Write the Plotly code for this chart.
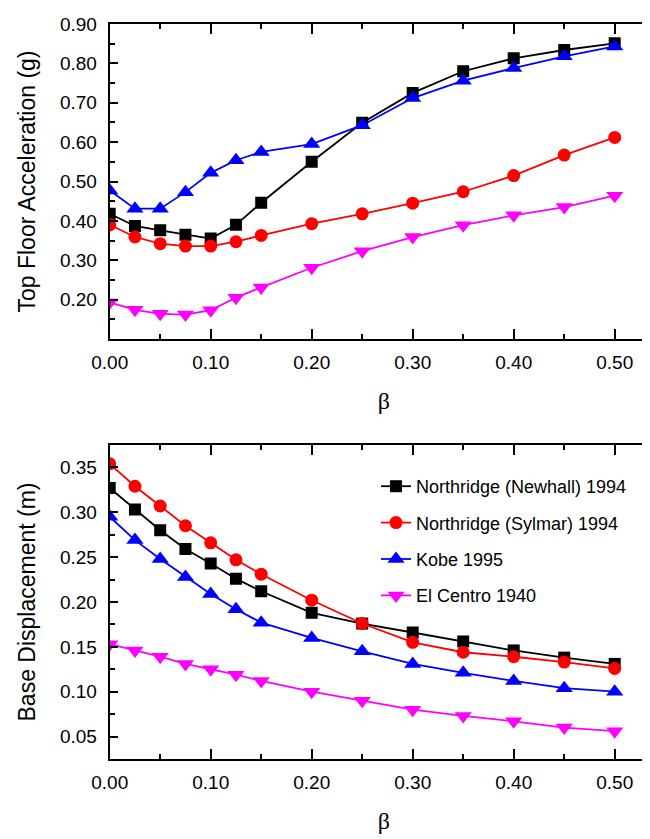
import plotly.graph_objects as go

# ---------------- data ----------------
beta = [0.0, 0.025, 0.05, 0.075, 0.1, 0.125, 0.15, 0.2, 0.25, 0.3, 0.35, 0.4, 0.45, 0.5]

series_names = ["Northridge (Newhall) 1994", "Northridge (Sylmar) 1994", "Kobe 1995", "El Centro 1940"]

acc_newhall = [0.418, 0.387, 0.376, 0.365, 0.355, 0.390, 0.446, 0.550, 0.649, 0.725, 0.780, 0.813, 0.834, 0.851]
acc_sylmar = [0.390, 0.359, 0.342, 0.336, 0.336, 0.347, 0.363, 0.393, 0.418, 0.445, 0.474, 0.515, 0.567, 0.612]
acc_kobe = [0.477, 0.431, 0.431, 0.473, 0.522, 0.554, 0.575, 0.595, 0.643, 0.712, 0.756, 0.788, 0.818, 0.843]
acc_elcentro = [0.193, 0.174, 0.164, 0.162, 0.173, 0.205, 0.231, 0.281, 0.323, 0.359, 0.389, 0.414, 0.435, 0.464]

disp_newhall = [0.327, 0.303, 0.280, 0.259, 0.243, 0.226, 0.212, 0.188, 0.176, 0.166, 0.156, 0.146, 0.138, 0.131]
disp_sylmar = [0.354, 0.329, 0.307, 0.285, 0.266, 0.247, 0.231, 0.202, 0.176, 0.155, 0.144, 0.139, 0.133, 0.126]
disp_kobe = [0.295, 0.269, 0.248, 0.228, 0.209, 0.192, 0.177, 0.160, 0.145, 0.131, 0.121, 0.112, 0.104, 0.100]
disp_elcentro = [0.153, 0.146, 0.139, 0.131, 0.125, 0.119, 0.112, 0.100, 0.090, 0.080, 0.073, 0.067, 0.060, 0.056]

x_tick_vals = [0.0, 0.1, 0.2, 0.3, 0.4, 0.5]
top_tick_vals = [0.2, 0.3, 0.4, 0.5, 0.6, 0.7, 0.8, 0.9]
bot_tick_vals = [0.05, 0.10, 0.15, 0.20, 0.25, 0.30, 0.35]

# ---------------- styles ----------------
colors = ["#000000", "#ff0000", "#0000ff", "#ff00ff"]
symbols = ["square", "circle", "triangle-up", "triangle-down"]
msizes = [12, 13, 15, 15]

W, H = 650, 839
SANS = "Arial, Liberation Sans, sans-serif"
SERIF = "Times New Roman, Liberation Serif, serif"

fig = go.Figure()

top_data = [acc_newhall, acc_sylmar, acc_kobe, acc_elcentro]
bot_data = [disp_newhall, disp_sylmar, disp_kobe, disp_elcentro]

for i in range(4):
    fig.add_trace(go.Scatter(
        x=beta, y=top_data[i], mode="lines+markers", name=series_names[i],
        legendgroup=series_names[i], showlegend=False,
        line=dict(color=colors[i], width=1.8),
        marker=dict(symbol=symbols[i], size=msizes[i], color=colors[i]),
        xaxis="x", yaxis="y",
    ))
for i in range(4):
    fig.add_trace(go.Scatter(
        x=beta, y=bot_data[i], mode="lines+markers", name=series_names[i],
        legendgroup=series_names[i], showlegend=True,
        line=dict(color=colors[i], width=1.8),
        marker=dict(symbol=symbols[i], size=msizes[i], color=colors[i]),
        xaxis="x2", yaxis="y2",
    ))

def px_x(p):
    return p / W

def px_y(p):
    return (H - p) / H

x_left = 101.7
x_range = [0, (W - x_left) / 1010.0]

top_dom = [px_y(331), px_y(16)]
bot_dom = [px_y(751), px_y(437)]

common_x = dict(
    domain=[px_x(x_left), 1.0], range=x_range,
    tickvals=x_tick_vals, tickformat=".2f",
    ticks="inside", ticklen=10, tickwidth=1.6, tickcolor="black",
    minor=dict(dtick=0.05, tick0=0, ticks="inside", ticklen=5, tickwidth=1.6, tickcolor="black"),
    showline=True, linecolor="black", linewidth=2, mirror="ticks",
    showgrid=False, zeroline=False,
    tickfont=dict(family=SANS, size=19, color="black"),
    ticklabelstandoff=5,
    title=dict(text="β", font=dict(family=SERIF, size=24, color="black"), standoff=20),
    automargin=False,
)

common_y = dict(
    tickformat=".2f",
    ticks="inside", ticklen=8, tickwidth=1.6, tickcolor="black",
    showline=True, linecolor="black", linewidth=2, mirror=False,
    showgrid=False, zeroline=False,
    tickfont=dict(family=SANS, size=19, color="black"),
    ticklabelstandoff=7,
    automargin=False,
)

fig.update_layout(
    width=W, height=H,
    margin=dict(l=0, r=0, t=0, b=0),
    paper_bgcolor="white", plot_bgcolor="white",
    xaxis=dict(common_x, anchor="y"),
    xaxis2=dict(common_x, anchor="y2"),
    yaxis=dict(common_y, domain=top_dom, range=[0.1, 0.9], tickvals=top_tick_vals, anchor="x",
               minor=dict(dtick=0.05, tick0=0.1, ticks="inside", ticklen=5, tickwidth=1.6, tickcolor="black"),
               title=dict(text="Top Floor Acceleration (g)", font=dict(family=SANS, size=23, color="black"), standoff=18)),
    yaxis2=dict(common_y, domain=bot_dom, range=[0.025, 0.375], tickvals=bot_tick_vals, anchor="x2",
                minor=dict(dtick=0.025, tick0=0.0, ticks="inside", ticklen=5, tickwidth=1.6, tickcolor="black"),
                title=dict(text="Base Displacement (m)", font=dict(family=SANS, size=23, color="black"), standoff=18)),
    yaxis3=dict(overlaying="y", matches="y", side="right", anchor="x", showline=False,
                tickvals=top_tick_vals, ticks="inside", ticklen=4, tickwidth=1.6, tickcolor="black",
                showticklabels=False, showgrid=False, zeroline=False),
    yaxis4=dict(overlaying="y2", matches="y2", side="right", anchor="x2", showline=False,
                tickvals=bot_tick_vals, ticks="inside", ticklen=4, tickwidth=1.6, tickcolor="black",
                showticklabels=False, showgrid=False, zeroline=False),
    legend=dict(
        x=px_x(368), y=px_y(460), xanchor="left", yanchor="top",
        font=dict(family=SANS, size=18, color="black"),
        bgcolor="rgba(0,0,0,0)", borderwidth=0,
        traceorder="grouped", tracegroupgap=10,
    ),
    showlegend=True,
)

fig.write_html("out.html")
